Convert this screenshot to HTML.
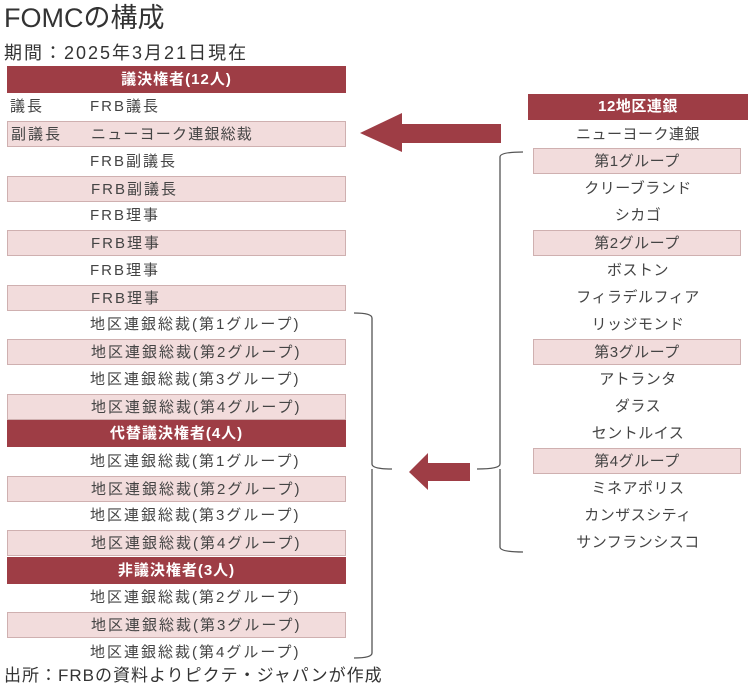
<!DOCTYPE html>
<html><head><meta charset="utf-8"><style>
body{margin:0;width:753px;height:691px;background:#fff;position:relative;overflow:hidden;font-family:"Liberation Sans","Noto Sans CJK JP",sans-serif;color:#444}
.a{position:absolute;white-space:nowrap}
.h{background:#9e3d45;color:#fff;font-weight:bold;font-size:15px;text-align:center;line-height:27px;height:27px;letter-spacing:1px}
.s{background:#f2dcdc;border:1px solid #cfb0b0;box-sizing:border-box}
.r{font-size:15px;line-height:27px;height:27px;letter-spacing:2px}
.L{left:7px;width:339px}
.R{left:528px;width:220px;text-align:center;letter-spacing:0.5px}
</style></head><body>
<div class="a" style="left:4px;top:0;font-size:27px;color:#333;line-height:36px">FOMCの構成</div>
<div class="a" style="left:4px;top:41px;font-size:18px;color:#333;line-height:24px;letter-spacing:2px">期間：2025年3月21日現在</div>

<div class="a h L" style="top:66px">議決権者(12人)</div>
<div class="a r L" style="top:93px"><span class="a" style="left:3px">議長</span><span class="a" style="left:83px">FRB議長</span></div>
<div class="a r L s" style="top:121px;height:26px"><span class="a" style="left:3px;top:-1px">副議長</span><span class="a" style="left:83px;top:-1px;letter-spacing:1.2px">ニューヨーク連銀総裁</span></div>
<div class="a r L" style="top:148px"><span class="a" style="left:83px">FRB副議長</span></div>
<div class="a r L s" style="top:176px;height:26px"><span class="a" style="left:83px;top:-1px">FRB副議長</span></div>
<div class="a r L" style="top:202px"><span class="a" style="left:83px">FRB理事</span></div>
<div class="a r L s" style="top:230px;height:26px"><span class="a" style="left:83px;top:-1px">FRB理事</span></div>
<div class="a r L" style="top:257px"><span class="a" style="left:83px">FRB理事</span></div>
<div class="a r L s" style="top:285px;height:26px"><span class="a" style="left:83px;top:-1px">FRB理事</span></div>
<div class="a r L" style="top:311px"><span class="a" style="left:83px">地区連銀総裁(第1グループ)</span></div>
<div class="a r L s" style="top:339px;height:26px"><span class="a" style="left:83px;top:-1px">地区連銀総裁(第2グループ)</span></div>
<div class="a r L" style="top:366px"><span class="a" style="left:83px">地区連銀総裁(第3グループ)</span></div>
<div class="a r L s" style="top:394px;height:26px"><span class="a" style="left:83px;top:-1px">地区連銀総裁(第4グループ)</span></div>
<div class="a h L" style="top:420px">代替議決権者(4人)</div>
<div class="a r L" style="top:448px"><span class="a" style="left:83px">地区連銀総裁(第1グループ)</span></div>
<div class="a r L s" style="top:476px;height:26px"><span class="a" style="left:83px;top:-1px">地区連銀総裁(第2グループ)</span></div>
<div class="a r L" style="top:502px"><span class="a" style="left:83px">地区連銀総裁(第3グループ)</span></div>
<div class="a r L s" style="top:530px;height:26px"><span class="a" style="left:83px;top:-1px">地区連銀総裁(第4グループ)</span></div>
<div class="a h L" style="top:557px">非議決権者(3人)</div>
<div class="a r L" style="top:584px"><span class="a" style="left:83px">地区連銀総裁(第2グループ)</span></div>
<div class="a r L s" style="top:612px;height:26px"><span class="a" style="left:83px;top:-1px">地区連銀総裁(第3グループ)</span></div>
<div class="a r L" style="top:639px"><span class="a" style="left:83px">地区連銀総裁(第4グループ)</span></div>
<div class="a" style="left:4px;top:664px;font-size:17px;color:#333;line-height:24px;letter-spacing:1px">出所：FRBの資料よりピクテ・ジャパンが作成</div>

<div class="a h R" style="top:94px;height:26px;line-height:26px">12地区連銀</div>
<div class="a r R" style="top:121px">ニューヨーク連銀</div>
<div class="a r R s" style="top:148px;left:533px;width:208px;height:26px;line-height:25px">第1グループ</div>
<div class="a r R" style="top:175px">クリーブランド</div>
<div class="a r R" style="top:202px">シカゴ</div>
<div class="a r R s" style="top:230px;left:533px;width:208px;height:26px;line-height:25px">第2グループ</div>
<div class="a r R" style="top:257px">ボストン</div>
<div class="a r R" style="top:284px">フィラデルフィア</div>
<div class="a r R" style="top:311px">リッジモンド</div>
<div class="a r R s" style="top:339px;left:533px;width:208px;height:26px;line-height:25px">第3グループ</div>
<div class="a r R" style="top:366px">アトランタ</div>
<div class="a r R" style="top:393px">ダラス</div>
<div class="a r R" style="top:420px">セントルイス</div>
<div class="a r R s" style="top:448px;left:533px;width:208px;height:26px;line-height:25px">第4グループ</div>
<div class="a r R" style="top:475px">ミネアポリス</div>
<div class="a r R" style="top:502px">カンザスシティ</div>
<div class="a r R" style="top:529px">サンフランシスコ</div>

<svg class="a" style="left:0;top:0" width="753" height="691">
<polygon points="360,133 402,113 402,124 501,124 501,143 402,143 402,152" fill="#9e3d45"/>
<polygon points="409,472 428,453 428,463 470,463 470,481 428,481 428,490" fill="#9e3d45"/>
<g fill="none" stroke="#555" stroke-width="1.3">
<path d="M354,313 Q372,313 372,318 L372,464 Q372,469 392,469 M372,469 L372,653 Q372,658 354,658" />
<path d="M523,152 Q500,152 500,157 L500,464 Q500,469 477,469 M500,469 L500,547 Q500,552 523,552" />
</g>
</svg>
</body></html>
